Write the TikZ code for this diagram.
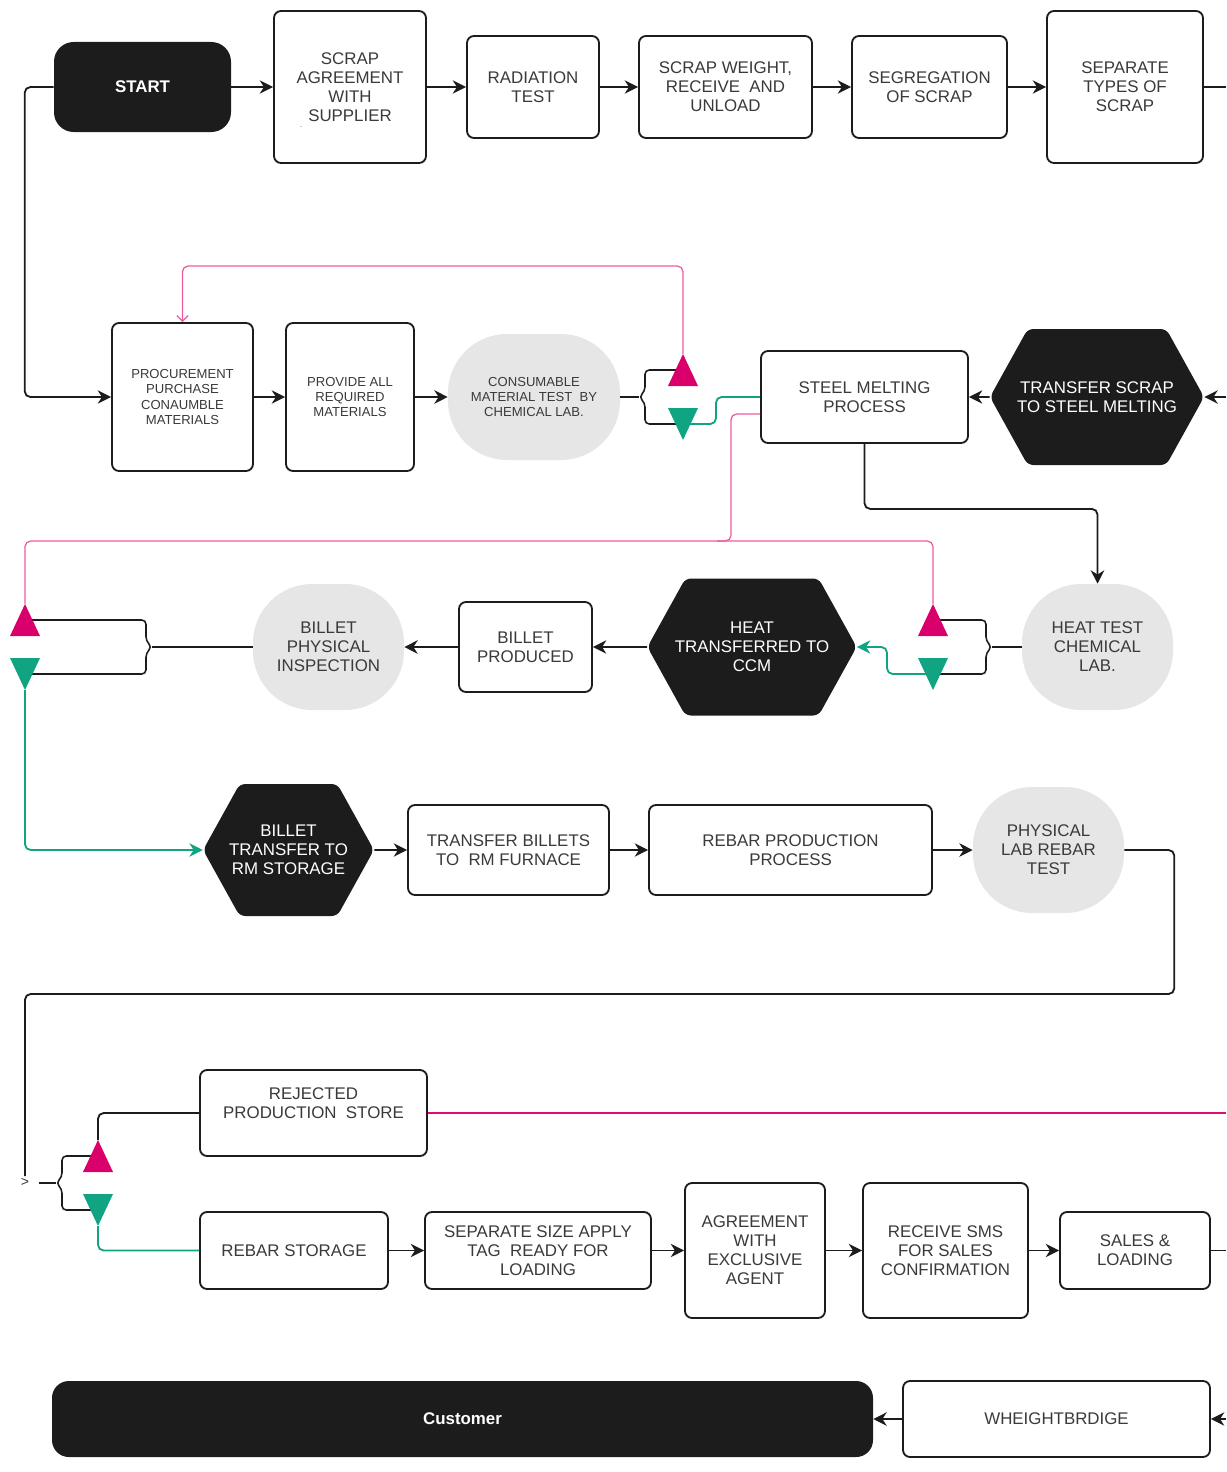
\documentclass[tikz,border=0pt]{standalone}
\usepackage{fontspec}
\setmainfont{Liberation Sans}
\usetikzlibrary{arrows.meta, shapes.symbols, calc}
\definecolor{ink}{HTML}{1C1C1C}
\definecolor{txt}{HTML}{3A3A3A}
\definecolor{lab}{HTML}{E6E6E6}
\definecolor{rejc}{HTML}{D9006C}
\definecolor{okc}{HTML}{10A482}
\definecolor{loopc}{HTML}{EE5A9E}

\begin{document}
\begin{tikzpicture}[x=0.025cm, y=-0.025cm, >={Stealth[length=9.5pt,width=9.5pt,inset=3pt]},
    every node/.style={align=center, text=txt, inner sep=2pt, font=\fontsize{12}{13.5}\selectfont},
    sz/.style 2 args={minimum width=#1*0.025cm, minimum height=#2*0.025cm},
    small/.style={font=\fontsize{9.3}{10.8}\selectfont},
    proc/.style={draw=ink, line width=1.3pt, rounded corners=5pt, fill=white},
    term/.style={fill=ink, rounded corners=14pt, text=white, font=\bfseries\fontsize{12}{14}\selectfont},
    hexa/.style={shape=signal, signal to=east and west, signal pointer angle=122, inner xsep=-7.5pt,
        fill=ink, text=white, rounded corners=4pt},
    test/.style={fill=lab, rounded corners=42pt},
    flow/.style={draw=ink, line width=1.3pt, rounded corners=4pt},
    brace/.style={draw=ink, line width=1.1pt, rounded corners=3pt},
    pinkline/.style={draw=loopc, line width=0.9pt, rounded corners=4pt},
    rejline/.style={draw=rejc!85!loopc, line width=1.2pt},
    okline/.style={draw=okc, line width=1.3pt, rounded corners=4pt}]
    \useasboundingbox (0, 0) rectangle (1226, 1472);
    \node [term, sz={177}{90}] (start) at (142.5, 87) {START};
    \node [proc, sz={152}{152}] (agree) at (350, 87) {SCRAP\\AGREEMENT\\WITH\\SUPPLIER};
    \node [font=\tiny] (dot) at (301, 127) {.};
    \node [proc, sz={132}{102}] (rad) at (533, 87) {RADIATION\\TEST};
    \node [proc, sz={173}{102}] (weigh) at (725.5, 87) {SCRAP WEIGHT,\\RECEIVE\ \ AND\\UNLOAD};
    \node [proc, sz={155}{102}] (segr) at (929.5, 87) {SEGREGATION\\OF SCRAP};
    \node [proc, sz={156}{152}] (types) at (1125, 87) {SEPARATE\\TYPES OF\\SCRAP};
    \node [proc, small, sz={141}{148}] (buy) at (182.5, 397) {PROCUREMENT\\PURCHASE\\CONAUMBLE\\MATERIALS};
    \node [proc, small, sz={128}{148}] (provide) at (350, 397) {PROVIDE ALL\\REQUIRED\\MATERIALS};
    \node [test, small, sz={172}{126}] (cons) at (534, 397) {CONSUMABLE\\MATERIAL TEST\ \ BY\\CHEMICAL LAB.};
    \node [proc, sz={207}{92}] (melt) at (864.5, 397) {STEEL MELTING\\PROCESS};
    \node [hexa, sz={0}{136}] (toscrap) at (1097, 397) {TRANSFER SCRAP\\TO STEEL MELTING};
    \node [test, sz={151}{126}] (heat) at (1097.5, 647) {HEAT TEST\\CHEMICAL\\LAB.};
    \node [hexa, sz={0}{137}] (ccm) at (752, 647) {HEAT\\TRANSFERRED TO\\CCM};
    \node [proc, sz={133}{90}] (billet) at (525.5, 647) {BILLET\\PRODUCED};
    \node [test, sz={151}{126}] (inspect) at (328.5, 647) {BILLET\\PHYSICAL\\INSPECTION};
    \node [hexa, sz={0}{132}] (rmstore) at (288.5, 850) {BILLET\\TRANSFER TO\\RM STORAGE};
    \node [proc, sz={201}{90}] (furnace) at (508.5, 850) {TRANSFER BILLETS\\TO\ \ RM FURNACE};
    \node [proc, sz={283}{90}] (rebar) at (790.5, 850) {REBAR PRODUCTION\\PROCESS};
    \node [test, sz={151}{126}] (phys) at (1048.5, 850) {PHYSICAL\\LAB REBAR\\TEST};
    \node [font=\fontsize{10}{11}\selectfont, inner sep=1pt] (gtsign) at (25, 1182) {>};
    \node [proc, sz={227}{86}] (reject) at (313.5, 1113) {REJECTED\\PRODUCTION\ \ STORE\\~};
    \node [proc, sz={188}{77}] (store) at (294, 1250.5) {REBAR STORAGE};
    \node [proc, sz={226}{77}] (tag) at (538, 1250.5) {SEPARATE SIZE APPLY\\TAG\ \ READY FOR\\LOADING};
    \node [proc, sz={140}{135}] (agent) at (755, 1250.5) {AGREEMENT\\WITH\\EXCLUSIVE\\AGENT};
    \node [proc, sz={165}{135}] (sms) at (945.5, 1250.5) {RECEIVE SMS\\FOR SALES\\CONFIRMATION};
    \node [proc, sz={150}{77}] (sales) at (1135, 1250.5) {SALES \&\\LOADING};
    \node [term, rounded corners=12pt, sz={821}{76}] (cust) at (462.5, 1419) {Customer};
    \node [proc, sz={307}{76}] (wb) at (1056.5, 1419) {WHEIGHTBRDIGE};
    \coordinate (out1) at (1226, 87);
    \coordinate (in2) at (1226, 397);
    \coordinate (split) at (731, 541);
    \coordinate (out4) at (1226, 1113);
    \coordinate (cusp4) at (56, 1183);
    \coordinate (out5) at (1226, 1250.5);
    \coordinate (in6) at (1226, 1419);
    \foreach \i/\tx/\ty in {1/683/397, 2/933/647, 3/25/647, 4/98/1183} {
        \coordinate (rm\i) at (\tx, \ty-27);
        \coordinate (gm\i) at (\tx, \ty+27);
        \coordinate (rt\i) at (\tx, \ty-43);
        \coordinate (gt\i) at (\tx, \ty+43);
    }
    \foreach \a/\b in {start/agree, agree/rad, rad/weigh, weigh/segr, segr/types, buy/provide,
        provide/cons, toscrap/melt, ccm/billet, billet/inspect, rmstore/furnace, furnace/rebar,
        rebar/phys, store/tag, tag/agent, agent/sms, sms/sales, wb/cust}
    \draw [flow, ->] (\a) -- (\b);
    \draw [flow] (types.east) -- (out1) (sales.east) -- (out5);
    \draw [flow, ->] (in2) -- (toscrap.east);
    \draw [flow, ->] (in6) -- (wb.east);
    \draw [flow, ->] (start.west) -- ++(-29, 0) |- (buy.west);
    \draw [flow, ->] (melt.south) -- ++(0, 65) -| (heat.north);
    \draw [flow] (phys.east) -- ++(50, 0) -- ++(0, 144) -| (gtsign.north);
    \draw [flow] (rt4) |- (reject.west);
    \draw [brace] (rm1) -- ++(-38, 0) -- ++(0, 21) -- ++(-6, 6) -- ++(6, 6) -- ++(0, 21) -- (gm1);
    \draw [brace] (cons.east) -- ++(19, 0);
    \draw [brace] (rm2) -- ++(53, 0) -- ++(0, 21) -- ++(6, 6) -- ++(-6, 6) -- ++(0, 21) -- (gm2);
    \draw [brace] (heat.west) -- ++(-30, 0);
    \draw [brace] (rm3) -- ++(121, 0) -- ++(0, 21) -- ++(6, 6) -- ++(-6, 6) -- ++(0, 21) -- (gm3);
    \draw [brace] (inspect.west) -- ++(-101, 0);
    \draw [brace] (rm4) -- ++(-36, 0) -- ++(0, 21) -- ++(-6, 6) -- ++(6, 6) -- ++(0, 21) -- (gm4);
    \draw [brace] ($(gtsign.east)+(8, 1)$) -- (cusp4);
    \draw [pinkline, -{Straight Barb[length=4pt, width=8pt]}] (rt1) -- ++(0, -88) -| (buy.north);
    \draw [pinkline] ($(melt.west)+(0, 17)$) -| (split) -- ++(-14, 0);
    \draw [pinkline] (rt2) -- ++(0, -63) -| (rt3);
    \draw [okline] (gm1) -- ++(33, 0) |- (melt.west);
    \draw [okline, ->] (gm2) -- ++(-46, 0) |- (ccm.east);
    \draw [okline, ->] (gt3) |- (rmstore.west);
    \draw [okline] (gt4) |- (store.west);
    \draw [rejline] (reject.east) -- (out4);
    \foreach \i in {1, ..., 4} {
        \fill [rejc] (rt\i) -- ++(15, 32) -- ++(-30, 0) -- cycle;
        \fill [okc] (gt\i) -- ++(15, -32) -- ++(-30, 0) -- cycle;
    }
\end{tikzpicture}
\end{document}
